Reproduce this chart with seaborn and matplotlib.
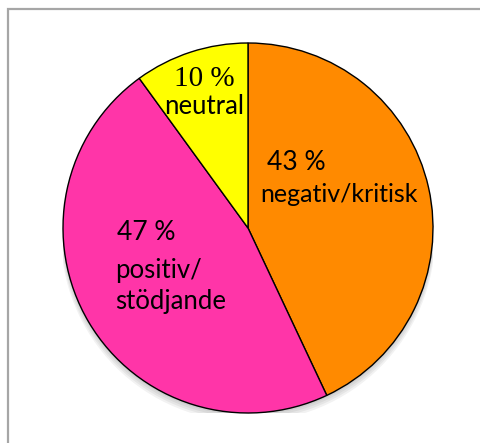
import matplotlib
matplotlib.use("Agg")
import matplotlib.pyplot as plt
import seaborn as sns
from matplotlib.patches import Rectangle, Circle

sns.set_theme(style="white")
plt.rcParams["font.family"] = ["Lato", "DejaVu Sans"]
plt.rcParams["text.color"] = "black"

# Share of responses by attitude
categories = ["negativ/kritisk", "positiv/\nstödjande", "neutral"]
shares = [43, 47, 10]
colors = ["#FF8A00", "#FF35A8", "#FFFF00"]

W, H, DPI = 480, 443, 100
fig = plt.figure(figsize=(W / DPI, H / DPI), dpi=DPI)
fig.patch.set_facecolor("white")

# Outer frame (runs past the right and bottom edges)
fig.patches.append(Rectangle((7.5 / W, -0.1), 1.2, (H - 8.5) / H + 0.1,
                             transform=fig.transFigure, fill=False,
                             edgecolor="#A6A6A6", linewidth=1.6))

cx, cy, r = 248, 228, 185
ax = fig.add_axes([(cx - r) / W, (H - cy - r) / H, 2 * r / W, 2 * r / H])
ax.set_xlim(-1, 1)
ax.set_ylim(-1, 1)
ax.set_axis_off()

# soft shadow beneath the pie
for i in range(4):
    ax.add_patch(Circle((0.0, -0.012 - 0.008 * i), 1.0 + 0.004 * i,
                        facecolor="black", alpha=0.05, edgecolor="none", zorder=0))

ax.pie(shares, colors=colors, startangle=90, counterclock=False, radius=1.0,
       wedgeprops=dict(edgecolor="black", linewidth=1.0, zorder=2))
ax.set_xlim(-1, 1)
ax.set_ylim(-1, 1)


def d(px, py):
    return (px - cx) / r, (cy - py) / r


fs = 18
# neutral
x, y = d(204, 79)
ax.text(x, y, f"{shares[2]} %", ha="center", va="center", fontsize=21,
        family=["Liberation Serif", "DejaVu Serif"], zorder=5)
x, y = d(204, 106)
ax.text(x, y, categories[2], ha="center", va="center", fontsize=fs + 0.5, zorder=5)
# negative / critical
x, y = d(267, 163)
ax.text(x, y, f"{shares[0]} %", ha="left", va="center", fontsize=fs + 1, zorder=5)
x, y = d(260, 195)
ax.text(x, y, categories[0], ha="left", va="center", fontsize=fs, zorder=5)
# positive / supportive
x, y = d(117, 232)
ax.text(x, y, f"{shares[1]} %", ha="left", va="center", fontsize=fs + 1, zorder=5)
x, y = d(115, 286)
ax.text(x, y, categories[1], ha="left", va="center", fontsize=fs + 0.5,
        linespacing=1.3, zorder=5)

fig.savefig("out.png", dpi=DPI, facecolor="white")
